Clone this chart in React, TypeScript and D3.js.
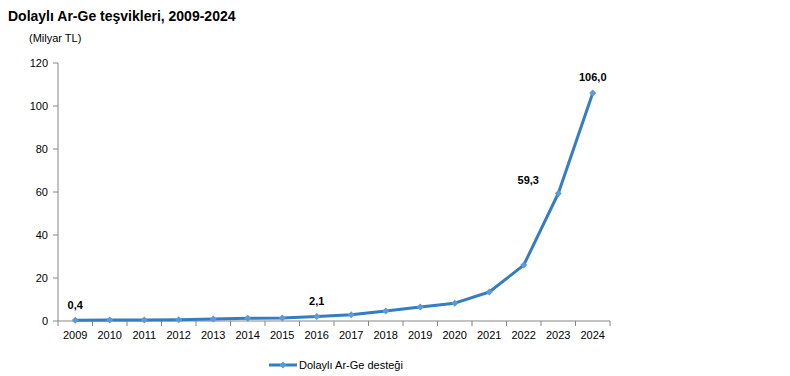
import React from "react";
import * as d3 from "d3";

const years = ["2009","2010","2011","2012","2013","2014","2015","2016","2017","2018","2019","2020","2021","2022","2023","2024"];
const values = [0.4,0.5,0.5,0.6,0.9,1.3,1.4,2.1,2.9,4.7,6.5,8.3,13.5,26.0,59.3,106.0];
const labeledYears = ["2009","2016","2023","2024"];
const labelTexts = ["0,4","2,1","59,3","106,0"];
const yTicks = [0,20,40,60,80,100,120];
const seriesName = "Dolaylı Ar-Ge desteği";

export default function App() {
  const W = 790, H = 376;
  const left = 58, right = 610, top = 63, bottom = 321;
  const x = d3.scaleBand<string>().domain(years).range([left, right]);
  const y = d3.scaleLinear().domain([0, 120]).range([bottom, top]);
  const cx = (yr: string) => (x(yr) as number) + x.bandwidth() / 2;
  const line = d3.line<number>().x((_, i) => cx(years[i])).y(d => y(d));
  const font = "'Liberation Sans', Arial, sans-serif";
  const color = "#357DC0";
  const labelOffsets: Record<string, [number, number]> = {
    "2009": [0, -11], "2016": [0, -11], "2023": [-30, -10], "2024": [0, -12]
  };
  return (
    <svg width={W} height={H} style={{ position: "absolute", left: 0, top: 0 }} fontFamily={font}>
      <rect width={W} height={H} fill="#fff" />
      <text x={8} y={21} fontSize={14} fontWeight="bold" fill="#000">Dolaylı Ar-Ge teşvikleri, 2009-2024</text>
      <text x={29} y={42} fontSize={11} fill="#000">(Milyar TL)</text>
      <line x1={left} x2={left} y1={top} y2={bottom} stroke="#868686" />
      {yTicks.map(t => (
        <g key={t}>
          <line x1={left - 5} x2={left} y1={y(t)} y2={y(t)} stroke="#868686" />
          <text x={48} y={y(t) + 4} fontSize={11} textAnchor="end" fill="#000">{t}</text>
        </g>
      ))}
      <line x1={left} x2={right} y1={bottom} y2={bottom} stroke="#868686" />
      {years.map((yr) => (
        <g key={yr}>
          <line x1={(x(yr) as number)} x2={(x(yr) as number)} y1={bottom} y2={bottom + 5} stroke="#868686" />
          <text x={cx(yr)} y={bottom + 18} fontSize={11} textAnchor="middle" fill="#000">{yr}</text>
        </g>
      ))}
      <line x1={right} x2={right} y1={bottom} y2={bottom + 5} stroke="#868686" />
      <path d={line(values) || ""} fill="none" stroke={color} strokeWidth={3} strokeLinejoin="round" />
      {values.map((v, i) => {
        const px = cx(years[i]), py = y(v);
        return <path key={i} d={`M${px},${py - 3.5}L${px + 3.5},${py}L${px},${py + 3.5}L${px - 3.5},${py}Z`} fill="#5B9BD5" />;
      })}
      {labeledYears.map((yr, k) => {
        const v = values[years.indexOf(yr)];
        const [dx, dy] = labelOffsets[yr];
        return <text key={yr} x={cx(yr) + dx} y={y(v) + dy} fontSize={11} fontWeight="bold" textAnchor="middle" fill="#000">{labelTexts[k]}</text>;
      })}
      <line x1={269} x2={297} y1={365} y2={365} stroke={color} strokeWidth={3} />
      <path d="M283,361.5L286.5,365L283,368.5L279.5,365Z" fill="#5B9BD5" />
      <text x={299} y={369} fontSize={11} fill="#000">{seriesName}</text>
    </svg>
  );
}
